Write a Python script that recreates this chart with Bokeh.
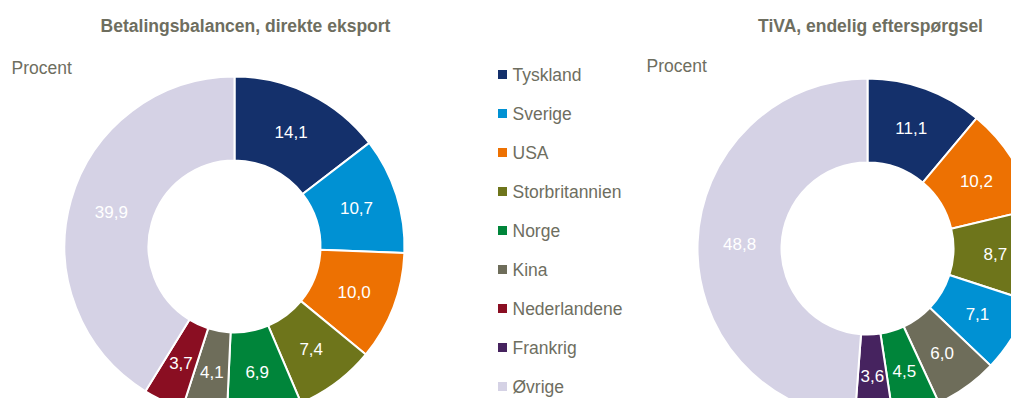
import numpy as np
from bokeh.plotting import figure
from bokeh.models import Range1d, ColumnDataSource
from bokeh.core.properties import value
from bokeh.embed import file_html
from bokeh.resources import INLINE

# ---- data ----
legend_names = ["Tyskland", "Sverige", "USA", "Storbritannien", "Norge",
                "Kina", "Nederlandene", "Frankrig", "Øvrige"]
legend_colors = ["#14306B", "#0091D3", "#ED7102", "#6E751B", "#00853A",
                 "#6E6D5A", "#8A0E22", "#46235F", "#D5D2E5"]

left_title = "Betalingsbalancen, direkte eksport"
left_cats = ["Tyskland", "Sverige", "USA", "Storbritannien", "Norge",
             "Kina", "Nederlandene", "Øvrige"]
left_vals = [14.1, 10.7, 10.0, 7.4, 6.9, 4.1, 3.7, 39.9]

right_title = "TiVA, endelig efterspørgsel"
right_cats = ["Tyskland", "USA", "Storbritannien", "Sverige", "Kina",
              "Norge", "Frankrig", "Øvrige"]
right_vals = [11.1, 10.2, 8.7, 7.1, 6.0, 4.5, 3.6, 48.8]

unit_label = "Procent"

FONT = "Liberation Sans"
TXT = "#6E6E5F"
cmap = dict(zip(legend_names, legend_colors))

W, H = 1011, 398
p = figure(width=W, height=H, output_backend="svg", toolbar_location=None,
           x_range=Range1d(0, W), y_range=Range1d(-H, 0),
           x_axis_location=None, y_axis_location=None, min_border=0,
           outline_line_color=None)
p.grid.visible = False


def donut(cats, vals, cx, cy, r_in, r_out, r_lab):
    v = np.array(vals, dtype=float)
    tot = v.sum()
    cum = np.concatenate([[0], np.cumsum(v)]) / tot
    start = np.pi / 2 - 2 * np.pi * cum[:-1]
    end = np.pi / 2 - 2 * np.pi * cum[1:]
    mid = (start + end) / 2
    src = ColumnDataSource(dict(
        x=[cx] * len(v), y=[-cy] * len(v), start=start, end=end,
        color=[cmap[c] for c in cats],
        lx=cx + r_lab * np.cos(mid), ly=-cy + r_lab * np.sin(mid),
        lab=[f"{a:.1f}".replace(".", ",") for a in vals]))
    p.annular_wedge(x="x", y="y", inner_radius=r_in, outer_radius=r_out,
                    start_angle="start", end_angle="end", direction="clock",
                    fill_color="color", line_color="white", line_width=2,
                    source=src)
    p.text(x="lx", y="ly", text="lab", source=src, text_color="white",
           text_font=value(FONT), text_font_size="17px",
           text_align="center", text_baseline="middle")


donut(left_cats, left_vals, 234, 246, 86, 170, 128)
donut(right_cats, right_vals, 867, 248, 86, 170, 128)

# titles
p.text(x=[245, 870], y=[-25, -25], text=[left_title, right_title],
       text_color=TXT, text_font=value(FONT), text_font_size="17.5px",
       text_font_style="bold", text_align="center", text_baseline="middle")
p.text(x=[11, 646], y=[-67, -65], text=[unit_label, unit_label],
       text_color=TXT, text_font=value(FONT), text_font_size="17.5px",
       text_align="left", text_baseline="middle")

# legend
ly = [-(74 + 39 * i) for i in range(len(legend_names))]
p.scatter(x=[502] * len(legend_names), y=ly, marker="square", size=9,
          fill_color=legend_colors, line_color=None)
p.text(x=[512] * len(legend_names), y=ly, text=legend_names, text_color=TXT,
       text_font=value(FONT), text_font_size="17.5px",
       text_align="left", text_baseline="middle")

open("out.html", "w").write(file_html(p, INLINE))
